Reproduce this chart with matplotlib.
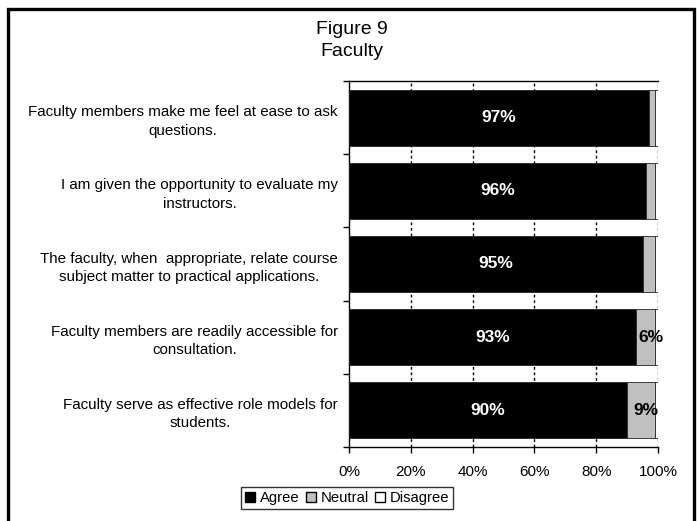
import numpy as np
import matplotlib.pyplot as plt
from matplotlib.patches import Rectangle, Patch

plt.rcParams['font.family'] = ['Liberation Sans', 'DejaVu Sans']

questions = [
    'Faculty members make me feel at ease to ask\nquestions.',
    'I am given the opportunity to evaluate my\ninstructors.',
    'The faculty, when  appropriate, relate course\nsubject matter to practical applications.',
    'Faculty members are readily accessible for\nconsultation.',
    'Faculty serve as effective role models for\nstudents.',
]
agree = [97, 96, 95, 93, 90]
neutral = [2, 3, 4, 6, 9]
disagree = [1, 1, 1, 1, 1]

fig = plt.figure(figsize=(6.99, 5.21), dpi=100)
ax = fig.add_axes([349 / 699, 1 - 447 / 521, 309 / 699, 366 / 521])

y = np.arange(len(questions))
h = 0.765
agree_a = np.array(agree)
neutral_a = np.array(neutral)
ax.barh(y, agree_a, height=h, color='black', edgecolor='#222222', linewidth=0.6, zorder=3)
ax.barh(y, neutral_a, left=agree_a, height=h, color='#c0c0c0', edgecolor='#222222',
        linewidth=0.6, zorder=3)
ax.barh(y, disagree, left=agree_a + neutral_a, height=h, color='white', edgecolor='#222222',
        linewidth=0.6, zorder=3)

for i in range(len(questions)):
    ax.text(agree[i] / 2, y[i], f'{agree[i]}%', color='white', fontweight='bold',
            fontsize=12.5, ha='center', va='center', zorder=4)
    if neutral[i] >= 5:
        ax.text(agree[i] + neutral[i] / 2 + 1.6, y[i], f'{neutral[i]}%', color='black',
                fontweight='bold', fontsize=12.5, ha='center', va='center', zorder=4)

ax.set_xlim(0, 100)
ax.set_ylim(len(questions) - 0.5, -0.5)
ax.set_xticks(np.arange(0, 101, 20))
ax.set_xticklabels([f'{v}%' for v in range(0, 101, 20)], fontsize=11)
ax.set_yticks(y)
ax.set_yticklabels(questions, fontsize=10.9, multialignment='center', linespacing=1.4)
ax.tick_params(axis='y', which='major', length=0, pad=8)
ax.set_yticks(np.arange(-0.5, len(questions)), minor=True)
ax.tick_params(axis='y', which='minor', length=4, width=1)
ax.tick_params(axis='x', length=4, width=1, pad=9)

for v in range(20, 101, 20):
    ax.axvline(v, color='black', linestyle=(0, (2, 2)), linewidth=1, zorder=2)

ax.spines['right'].set_visible(False)
for s in ['left', 'top', 'bottom']:
    ax.spines[s].set_linewidth(1)

fig.text(352 / 699, 1 - 29 / 521, 'Figure 9', ha='center', va='center', fontsize=14)
fig.text(352 / 699, 1 - 51 / 521, 'Faculty', ha='center', va='center', fontsize=14)

handles = [Patch(facecolor='black', edgecolor='black', label='Agree'),
           Patch(facecolor='#c0c0c0', edgecolor='black', label='Neutral'),
           Patch(facecolor='white', edgecolor='black', label='Disagree')]
leg = fig.legend(handles=handles, loc='center', bbox_to_anchor=(347 / 699, 1 - 498 / 521),
                 ncol=3, fontsize=10.7, frameon=True, fancybox=False, handlelength=0.7,
                 handleheight=0.7, handletextpad=0.3, columnspacing=0.4, borderpad=0.25,
                 borderaxespad=0)
leg.get_frame().set_edgecolor('black')
leg.get_frame().set_linewidth(1)

fig.patches.append(Rectangle((8 / 699, -0.05), 686 / 699, 1.05 - 9 / 521,
                             transform=fig.transFigure, fill=False, edgecolor='black',
                             linewidth=2.4))

fig.savefig('out.png', dpi=100)
